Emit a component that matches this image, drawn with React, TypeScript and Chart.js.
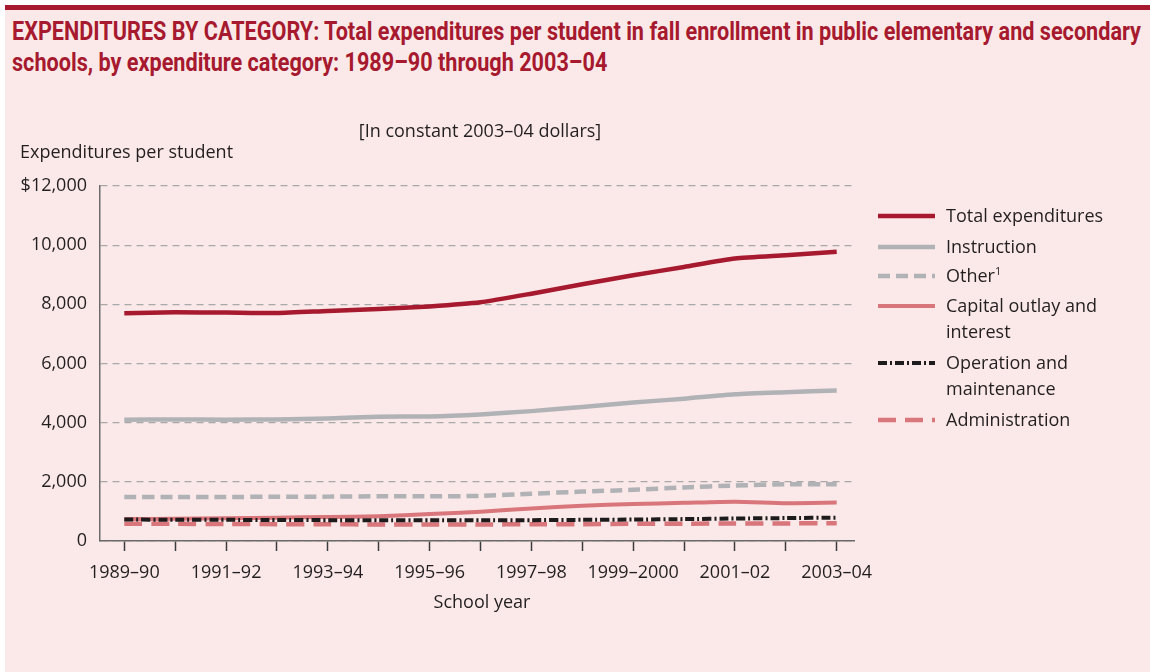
import React, { useEffect, useLayoutEffect, useRef } from 'react';
import { Chart, registerables } from 'chart.js';

Chart.register(...registerables);

// ---------- data ----------
const categories = [
  '1989–90', '1990–91', '1991–92', '1992–93', '1993–94', '1994–95', '1995–96', '1996–97',
  '1997–98', '1998–99', '1999–2000', '2000–01', '2001–02', '2002–03', '2003–04',
];
const xTickLabels = [
  '1989–90', '', '1991–92', '', '1993–94', '', '1995–96', '',
  '1997–98', '', '1999–2000', '', '2001–02', '', '2003–04',
];
const totalExpenditures = [7700, 7730, 7720, 7705, 7775, 7840, 7930, 8070, 8360, 8680, 8980, 9265, 9550, 9660, 9775];
const instruction = [4100, 4110, 4100, 4110, 4140, 4200, 4210, 4280, 4390, 4530, 4680, 4810, 4960, 5030, 5090];
const other = [1490, 1490, 1490, 1495, 1500, 1510, 1510, 1525, 1600, 1670, 1730, 1810, 1875, 1920, 1920];
const capitalOutlay = [740, 750, 770, 790, 810, 840, 910, 990, 1100, 1190, 1250, 1290, 1330, 1280, 1300];
const operationMaintenance = [725, 720, 715, 710, 705, 700, 700, 700, 705, 715, 725, 740, 760, 775, 790];
const administration = [585, 580, 575, 570, 565, 560, 560, 560, 565, 570, 580, 585, 590, 595, 600];
const yTickValues = [0, 2000, 4000, 6000, 8000, 10000, 12000];
const yTickLabels = ['0', '2,000', '4,000', '6,000', '8,000', '10,000', '$12,000'];

// ---------- styles ----------
const RED = '#a6192e';
const GRAY = '#b0b2b5';
const SALMON = '#d9767b';
const INK = '#231f20';
const BG = '#fbe9e9';
const FONT = "'Open Sans', 'Noto Sans', sans-serif";

const series = [
  { label: 'Total expenditures', values: totalExpenditures, color: RED, width: 4.5, dash: [] as number[], order: 0 },
  { label: 'Instruction', values: instruction, color: GRAY, width: 4.5, dash: [] as number[], order: 1 },
  { label: 'Other', values: other, color: GRAY, width: 4.5, dash: [12, 6], order: 2 },
  { label: 'Capital outlay and interest', values: capitalOutlay, color: SALMON, width: 4, dash: [] as number[], order: 4 },
  { label: 'Operation and maintenance', values: operationMaintenance, color: '#1e1b1c', width: 4, dash: [9, 3, 2, 3], order: 3 },
  { label: 'Administration', values: administration, color: SALMON, width: 4.5, dash: [18, 9], order: 5 },
];

// legend sample rows (layout)
const legendRowY = [216, 247, 276, 306, 363, 420];
const legendX0 = 878;
const legendX1 = 935;

const legendPlugin = {
  id: 'sampleLegend',
  afterDraw(chart: any) {
    const ctx = chart.ctx as CanvasRenderingContext2D;
    chart.data.datasets.forEach((ds: any, i: number) => {
      const y = legendRowY[i];
      ctx.save();
      ctx.strokeStyle = ds.borderColor;
      ctx.lineWidth = ds.borderWidth;
      ctx.setLineDash(ds.borderDash || []);
      ctx.lineCap = 'butt';
      ctx.beginPath();
      ctx.moveTo(legendX0, y);
      ctx.lineTo(legendX1, y);
      ctx.stroke();
      ctx.restore();
    });
  },
};

const textStyle: React.CSSProperties = {
  position: 'absolute',
  fontFamily: FONT,
  fontSize: 18,
  lineHeight: '26px',
  color: INK,
  whiteSpace: 'nowrap',
  margin: 0,
};

export default function App() {
  const canvasRef = useRef<HTMLCanvasElement>(null);
  const line1 = useRef<HTMLSpanElement>(null);
  const line2 = useRef<HTMLSpanElement>(null);

  useLayoutEffect(() => {
    const fit = () => {
      const a = line1.current;
      const b = line2.current;
      if (!a || !b) return;
      a.style.transform = 'none';
      b.style.transform = 'none';
      const w = a.getBoundingClientRect().width;
      if (!w) return;
      const s = 1129 / w;
      a.style.transform = `scaleX(${s})`;
      b.style.transform = `scaleX(${s})`;
    };
    fit();
    if ((document as any).fonts && (document as any).fonts.ready) {
      (document as any).fonts.ready.then(fit);
    }
  }, []);

  useEffect(() => {
    if (!canvasRef.current) return;
    const chart = new Chart(canvasRef.current, {
      type: 'line',
      data: {
        datasets: series.map((s) => ({
          label: s.label,
          data: s.values.map((v, i) => ({ x: i, y: v })),
          borderColor: s.color,
          backgroundColor: s.color,
          borderWidth: s.width,
          borderDash: s.dash,
          borderCapStyle: 'butt',
          borderJoinStyle: 'round',
          pointRadius: 0,
          pointHoverRadius: 0,
          fill: false,
          tension: 0.2,
          order: s.order,
        })),
      },
      options: {
        responsive: false,
        animation: false,
        events: [],
        layout: { padding: { left: 0, top: 186, right: 296, bottom: 0 } },
        plugins: {
          legend: { display: false },
          tooltip: { enabled: false },
          title: { display: false },
        },
        scales: {
          x: {
            type: 'linear',
            min: -0.4775,
            max: 14.34,
            afterBuildTicks: (scale: any) => {
              scale.ticks = categories.map((_, i) => ({ value: i }));
            },
            afterFit: (scale: any) => {
              scale.height = 131;
            },
            ticks: {
              autoSkip: false,
              maxRotation: 0,
              minRotation: 0,
              padding: 11,
              color: INK,
              font: { family: FONT, size: 18 },
              callback: (_v: any, i: number) => xTickLabels[i],
            },
            grid: {
              drawOnChartArea: false,
              drawTicks: true,
              tickLength: 10,
              tickColor: '#3c3c3c',
              tickWidth: 1.5,
            },
            border: { display: true, color: '#6a6a6a', width: 1.5 },
          },
          y: {
            type: 'linear',
            min: 0,
            max: 12000,
            afterBuildTicks: (scale: any) => {
              scale.ticks = yTickValues.map((v) => ({ value: v }));
            },
            afterFit: (scale: any) => {
              scale.width = 100;
            },
            ticks: {
              padding: 13,
              color: INK,
              font: { family: FONT, size: 18 },
              callback: (_v: any, i: number) => yTickLabels[i],
            },
            grid: { color: '#a9a9a9', lineWidth: 1.2, drawTicks: false },
            border: { display: true, color: '#6a6a6a', width: 1.5, dash: [7, 5] },
          },
        },
      } as any,
      plugins: [legendPlugin],
    });
    return () => chart.destroy();
  }, []);

  return (
    <div style={{ position: 'absolute', left: 0, top: 0, width: 1150, height: 672, background: '#ffffff', overflow: 'hidden' }}>
      <div style={{ position: 'absolute', left: 5, top: 10, width: 1145, height: 662, background: BG }} />
      <div style={{ position: 'absolute', left: 5, top: 5, width: 1145, height: 5, background: RED }} />

      <div style={{ position: 'absolute', left: 12, top: 16, fontFamily: "Roboto, 'Open Sans', sans-serif", fontWeight: 700, fontSize: 25, lineHeight: '31px', color: RED, whiteSpace: 'nowrap' }}>
        <div><span ref={line1} style={{ display: 'inline-block', transformOrigin: 'left center' }}>EXPENDITURES BY CATEGORY: Total expenditures per student in fall enrollment in public elementary and secondary</span></div>
        <div><span ref={line2} style={{ display: 'inline-block', transformOrigin: 'left center' }}>schools, by expenditure category: 1989–90 through 2003–04</span></div>
      </div>

      <canvas ref={canvasRef} width={1150} height={672} style={{ position: 'absolute', left: 0, top: 0, width: 1150, height: 672 }} />

      <div style={{ ...textStyle, left: 280, width: 400, textAlign: 'center', top: 131 - 14 }}>[In constant 2003–04 dollars]</div>
      <div style={{ ...textStyle, left: 20, top: 152 - 14 }}>Expenditures per student</div>
      <div style={{ ...textStyle, left: 282, width: 400, textAlign: 'center', top: 602 - 14 }}>School year</div>

      <div style={{ ...textStyle, left: 946, top: 216 - 14 }}>Total expenditures</div>
      <div style={{ ...textStyle, left: 946, top: 247 - 14 }}>Instruction</div>
      <div style={{ ...textStyle, left: 946, top: 276 - 14 }}>
        Other<sup style={{ fontSize: 11, verticalAlign: 'top', lineHeight: '18px' }}>1</sup>
      </div>
      <div style={{ ...textStyle, left: 946, top: 306 - 14 }}>Capital outlay and<br />interest</div>
      <div style={{ ...textStyle, left: 946, top: 363 - 14 }}>Operation and<br />maintenance</div>
      <div style={{ ...textStyle, left: 946, top: 420 - 14 }}>Administration</div>
    </div>
  );
}
